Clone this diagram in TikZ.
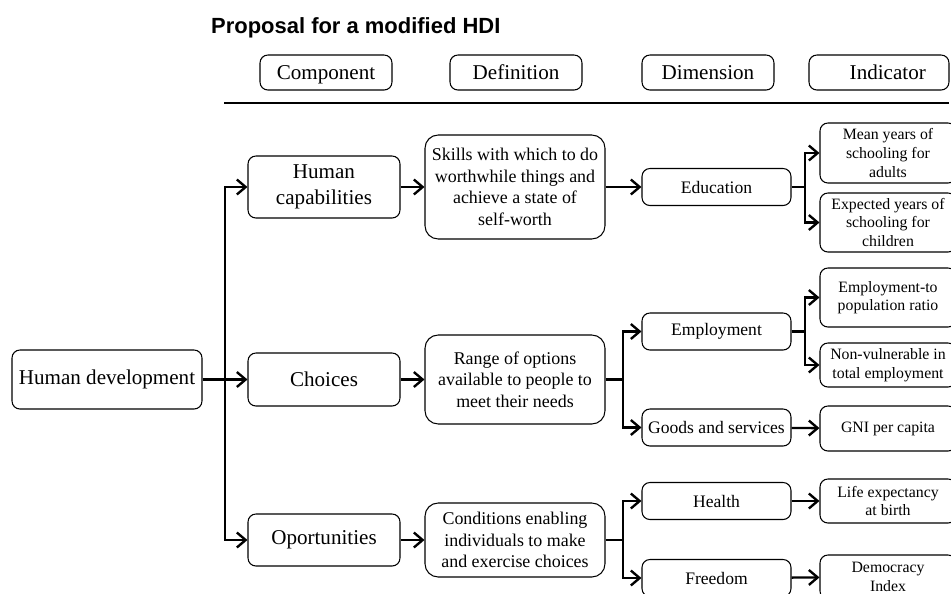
\documentclass[tikz,border=0pt]{standalone}
\usepackage{fontspec}
\setmainfont{Liberation Serif}
\newfontfamily\titlefont{Liberation Sans}
\usetikzlibrary{positioning,arrows.meta}
\begin{document}
\begin{tikzpicture}[x=0.02cm,y=-0.02cm,
  box/.style={draw,line width=0.6pt,rounded corners=4.5pt,align=center,inner sep=1pt},
  head/.style={box,minimum height=0.7cm,text height=0.8em,text depth=0em,font=\fontsize{12}{14}\selectfont},
  comp/.style={box,minimum width=3.04cm,font=\fontsize{12}{14.6}\selectfont},
  defn/.style={box,rounded corners=7.5pt,minimum width=3.6cm,font=\fontsize{10.2}{12.2}\selectfont},
  dimn/.style={box,minimum width=2.98cm,minimum height=0.74cm,font=\fontsize{10}{12}\selectfont},
  indi/.style={box,minimum width=2.72cm,font=\fontsize{9}{10.6}\selectfont},
  conn/.style={line width=1.35pt,-{Straight Barb[length=5pt,width=8.5pt]}},
  stem/.style={line width=1.35pt}]
\clip(0,0)rectangle(951,593);
% title and headings
\node[anchor=base west,font=\titlefont\bfseries\fontsize{12.5}{15}\selectfont](title)at(205,33){Proposal for a modified HDI};
\node[head,minimum width=2.64cm](hcomp)at(326,72.5){Component};
\node[head,minimum width=2.64cm](hdef)at(516,72.5){Definition};
\node[head,minimum width=2.64cm](hdim)at(708,72.5){Dimension};
\node[head,minimum width=2.8cm](hind)at(879,72.5){\hspace{10pt}Indicator};
\coordinate(ruleL)at(224,103);
\coordinate(ruleR)at(949,103);
\draw[line width=1.35pt](ruleL)--(ruleR);
% components
\node[box,minimum width=3.8cm,minimum height=1.18cm,font=\fontsize{12}{14}\selectfont](hd)at(107,379.5){Human development};
\node[comp,minimum height=1.24cm](hc)at(324,187){Human\\capabilities};
\node[comp,minimum height=1.06cm](ch)at(324,379.5){Choices};
\node[comp,minimum height=1.04cm](op)at(324,540){Oportunities};
% definitions
\node[defn,minimum height=2.08cm](skills)at(515,187){Skills with which to do\\worthwhile things and\\achieve a state of\\self-worth};
\node[defn,minimum height=1.78cm](range)at(515,379.5){Range of options\\available to people to\\meet their needs};
\node[defn,minimum height=1.48cm](cond)at(515,540){Conditions enabling\\individuals to make\\and exercise choices};
% dimensions
\node[dimn](edu)at(716.5,187){Education};
\node[dimn](emp)at(716.5,331.5){Employment};
\node[dimn](goods)at(716.5,427.5){Goods and services};
\node[dimn](health)at(716.5,501){Health};
\node[dimn](free)at(716.5,578){Freedom};
% indicators
\node[indi,minimum height=1.2cm](mean)at(888,153){Mean years of\\schooling for\\adults};
\node[indi,minimum height=1.18cm](expect)at(888,222.5){Expected years of\\schooling for\\children};
\node[indi,minimum height=1.18cm](emptop)at(888,297.5){Employment-to\\population ratio};
\node[indi,minimum height=0.88cm](nonvul)at(888,365){Non-vulnerable in\\total employment};
\node[indi,minimum height=0.9cm](gni)at(888,428.5){GNI per capita};
\node[indi,minimum height=0.88cm](life)at(888,501){Life expectancy\\at birth};
\node[indi,minimum height=0.88cm](democ)at(888,577){Democracy\\Index};
% branch points
\coordinate(trunk)at(225,379.5);
\coordinate(bedu)at(805,187);
\coordinate(brange)at(623,379.5);
\coordinate(bemp)at(805,331.5);
\coordinate(bcond)at(623,540);
% connectors
\draw[conn](hd)--(ch);
\draw[conn](trunk)|-(hc);
\draw[conn](trunk)|-(op);
\draw[conn](hc)--(skills);
\draw[conn](ch)--(range);
\draw[conn](op)--(cond);
\draw[conn](skills)--(edu);
\draw[stem](range.east)--(brange);
\draw[conn](brange)|-(emp);
\draw[conn](brange)|-(goods);
\draw[stem](cond.east)--(bcond);
\draw[conn](bcond)|-(health);
\draw[conn](bcond)|-(free);
\draw[stem](edu.east)--(bedu);
\draw[conn](bedu)|-(mean);
\draw[conn](bedu)|-(expect);
\draw[stem](emp.east)--(bemp);
\draw[conn](bemp)|-(emptop);
\draw[conn](bemp)|-(nonvul);
\draw[conn](goods)--(gni);
\draw[conn](health)--(life);
\draw[conn](free)--(democ);
\end{tikzpicture}
\end{document}
